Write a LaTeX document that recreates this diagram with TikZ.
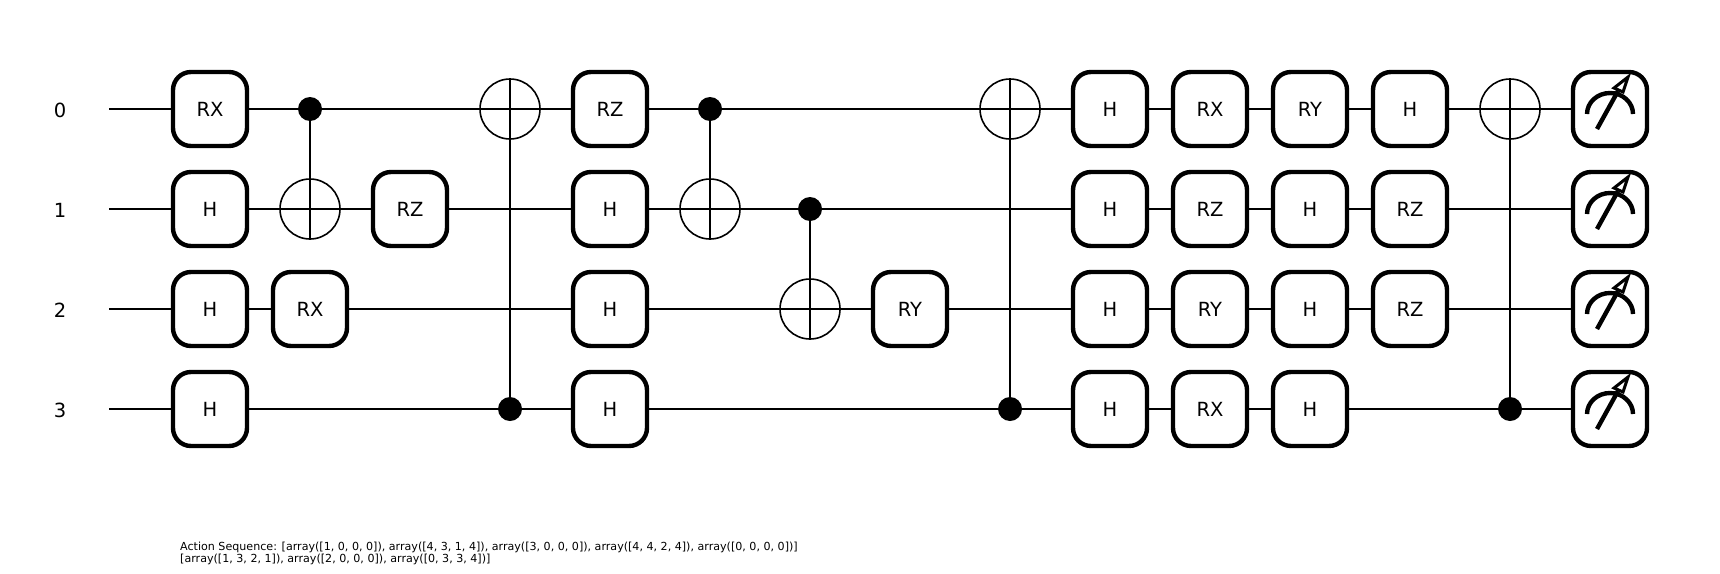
\documentclass[tikz,border=0pt]{standalone}
\usepackage{fontspec}
\setmainfont{DejaVu Sans}
\usetikzlibrary{backgrounds}
\tikzset{
  x=1pt,y=-1pt,
  gate/.style={draw=black,fill=white,line width=4.4pt,rounded corners=18pt,minimum size=74pt,inner sep=0pt,font=\fontsize{19.5}{20}\selectfont,text depth=-1pt},
  ctrl/.style={circle,fill=black,minimum size=24pt,inner sep=0pt},
  targ/.style={circle,draw=black,line width=1.6pt,minimum size=60pt,inner sep=0pt},
  wirelabel/.style={font=\fontsize{19.5}{20}\selectfont,inner sep=0pt},
  wire/.style={draw=black,line width=2pt},
  link/.style={draw=black,line width=2pt},
  dial/.style={line width=4.4pt,line cap=butt},
  caption/.style={font=\fontsize{11.1}{12}\selectfont,align=left,anchor=north west,inner sep=0pt},
}
\newcommand{\gt}[4]{\node[gate] (#1) at (#2,#3) {#4};}
\newcommand{\cnot}[5]{% name col ctrlY targY anchor
  \node[ctrl] (#1c) at (#2,#3) {};
  \node[targ] (#1t) at (#2,#4) {};
  \begin{scope}[on background layer]
    \draw[link] (#1c.center) -- (#1t.#5);
  \end{scope}
}
\newcommand{\meter}[2]{%
  \node[gate] (#1) at (1610,#2) {};
  \begin{scope}[shift={(#1.center)}]
    \draw[dial] (-23,5) arc[start angle=180,end angle=360,x radius=23,y radius=21];
    \draw[dial] (-13,20) -- (8,-18);
    \draw[line width=3pt,line join=miter,fill=white] (18,-32) -- (4,-21) -- (13,-17) -- cycle;
  \end{scope}
}
\begin{document}
\begin{tikzpicture}
\useasboundingbox (0,0) rectangle (1720,573);
\node[wirelabel] (l0) at (60,110) {0};
\node[wirelabel] (l1) at (60,210) {1};
\node[wirelabel] (l2) at (60,310) {2};
\node[wirelabel] (l3) at (60,410) {3};
\coordinate (s0) at (109,109);
\coordinate (s1) at (109,209);
\coordinate (s2) at (109,309);
\coordinate (s3) at (109,409);
% column 1
\gt{a0}{210}{109}{RX}\gt{a1}{210}{209}{H}\gt{a2}{210}{309}{H}\gt{a3}{210}{409}{H}
% column 2
\cnot{b}{310}{109}{209}{south}
\gt{b2}{310}{309}{RX}
% column 3
\gt{c1}{410}{209}{RZ}
% column 4
\cnot{d}{510}{409}{109}{north}
% column 5
\gt{e0}{610}{109}{RZ}\gt{e1}{610}{209}{H}\gt{e2}{610}{309}{H}\gt{e3}{610}{409}{H}
% column 6
\cnot{f}{710}{109}{209}{south}
% column 7
\cnot{g}{810}{209}{309}{south}
% column 8
\gt{h2}{910}{309}{RY}
% column 9
\cnot{i}{1010}{409}{109}{north}
% column 10
\gt{j0}{1110}{109}{H}\gt{j1}{1110}{209}{H}\gt{j2}{1110}{309}{H}\gt{j3}{1110}{409}{H}
% column 11
\gt{k0}{1210}{109}{RX}\gt{k1}{1210}{209}{RZ}\gt{k2}{1210}{309}{RY}\gt{k3}{1210}{409}{RX}
% column 12
\gt{m0}{1310}{109}{RY}\gt{m1}{1310}{209}{H}\gt{m2}{1310}{309}{H}\gt{m3}{1310}{409}{H}
% column 13
\gt{n0}{1410}{109}{H}\gt{n1}{1410}{209}{RZ}\gt{n2}{1410}{309}{RZ}
% column 14
\cnot{o}{1510}{409}{109}{north}
% column 15
\meter{q0}{109}\meter{q1}{209}\meter{q2}{309}\meter{q3}{409}
\begin{scope}[on background layer]
  \draw[wire] (s0) -- (q0.west);
  \draw[wire] (s1) -- (q1.west);
  \draw[wire] (s2) -- (q2.west);
  \draw[wire] (s3) -- (q3.west);
\end{scope}
\node[caption] (cap) at (180,541.5) {Action Sequence: [array([1, 0, 0, 0]), array([4, 3, 1, 4]), array([3, 0, 0, 0]), array([4, 4, 2, 4]), array([0, 0, 0, 0])]\\{}[array([1, 3, 2, 1]), array([2, 0, 0, 0]), array([0, 3, 3, 4])]};
\end{tikzpicture}
\end{document}
